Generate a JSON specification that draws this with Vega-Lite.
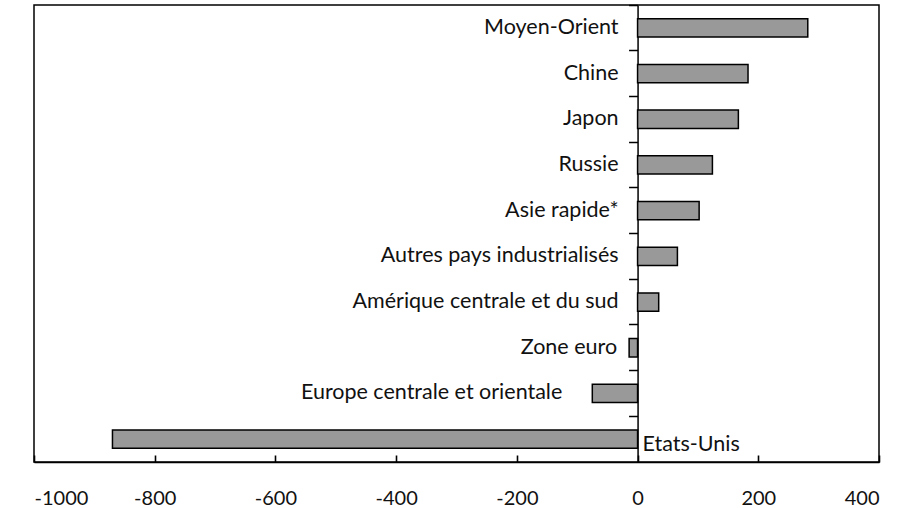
{
  "$schema": "https://vega.github.io/schema/vega-lite/v6.json",
  "width": 845,
  "height": 457,
  "autosize": {"type": "none"},
  "padding": {"left": 34, "top": 5, "right": 24, "bottom": 46},
  "background": "white",
  "config": {
    "view": {"stroke": "black", "strokeWidth": 1.5},
    "font": "Lato",
    "axis": {"labelFont": "Lato", "labelFontSize": 20, "labelColor": "#111", "title": null, "domainColor": "black", "tickColor": "black", "domainWidth": 1.5, "tickWidth": 1.5},
    "axisX": {"tickCount": 7, "ticks": false, "labelPadding": 26, "domain": true, "labelExpr": "'' + datum.value", "grid": true, "gridColor": "#000000", "gridWidth": 1.6, "gridDash": [7, 2000], "gridOpacity": 1},
    "axisY": {"grid": false}
  },
  "data": {
    "values": [
      {"region": "Moyen-Orient", "value": 282},
      {"region": "Chine", "value": 183},
      {"region": "Japon", "value": 167},
      {"region": "Russie", "value": 124},
      {"region": "Asie rapide*", "value": 102},
      {"region": "Autres pays industrialisés", "value": 66},
      {"region": "Amérique centrale et du sud", "value": 35},
      {"region": "Zone euro", "value": -14},
      {"region": "Europe centrale et orientale", "value": -75},
      {"region": "Etats-Unis", "value": -870}
    ]
  },
  "encoding": {
    "y": {
      "field": "region",
      "type": "nominal",
      "sort": null,
      "scale": {"paddingInner": 0, "paddingOuter": 0},
      "axis": {"labels": false, "ticks": true, "tickSize": 9, "bandPosition": 0, "offset": -603.57, "domain": true, "grid": false}
    }
  },
  "layer": [
    {
      "mark": {"type": "bar", "height": {"band": 0.4}, "fill": "#999999", "stroke": "black", "strokeWidth": 1.5},
      "encoding": {
        "x": {
          "field": "value",
          "type": "quantitative",
          "scale": {"domain": [-1000, 400], "nice": false, "zero": false}
        }
      }
    },
    {
      "transform": [{"filter": "datum.value > 0"}],
      "mark": {"type": "text", "align": "right", "baseline": "middle", "dx": -19, "fontSize": 21.5, "color": "#111"},
      "encoding": {"x": {"datum": 0, "type": "quantitative"}, "text": {"field": "region"}}
    },
    {
      "transform": [{"filter": "datum.region === 'Zone euro'"}],
      "mark": {"type": "text", "align": "right", "baseline": "middle", "dx": -12, "fontSize": 21.5, "color": "#111"},
      "encoding": {"x": {"field": "value", "type": "quantitative"}, "text": {"field": "region"}}
    },
    {
      "transform": [{"filter": "datum.region === 'Europe centrale et orientale'"}],
      "mark": {"type": "text", "align": "right", "baseline": "middle", "dx": -30, "fontSize": 21.5, "color": "#111"},
      "encoding": {"x": {"field": "value", "type": "quantitative"}, "text": {"field": "region"}}
    },
    {
      "transform": [{"filter": "datum.region === 'Etats-Unis'"}],
      "mark": {"type": "text", "align": "left", "baseline": "middle", "dx": 5, "dy": 6, "fontSize": 21.5, "color": "#111"},
      "encoding": {"x": {"datum": 0, "type": "quantitative"}, "text": {"field": "region"}}
    }
  ]
}
